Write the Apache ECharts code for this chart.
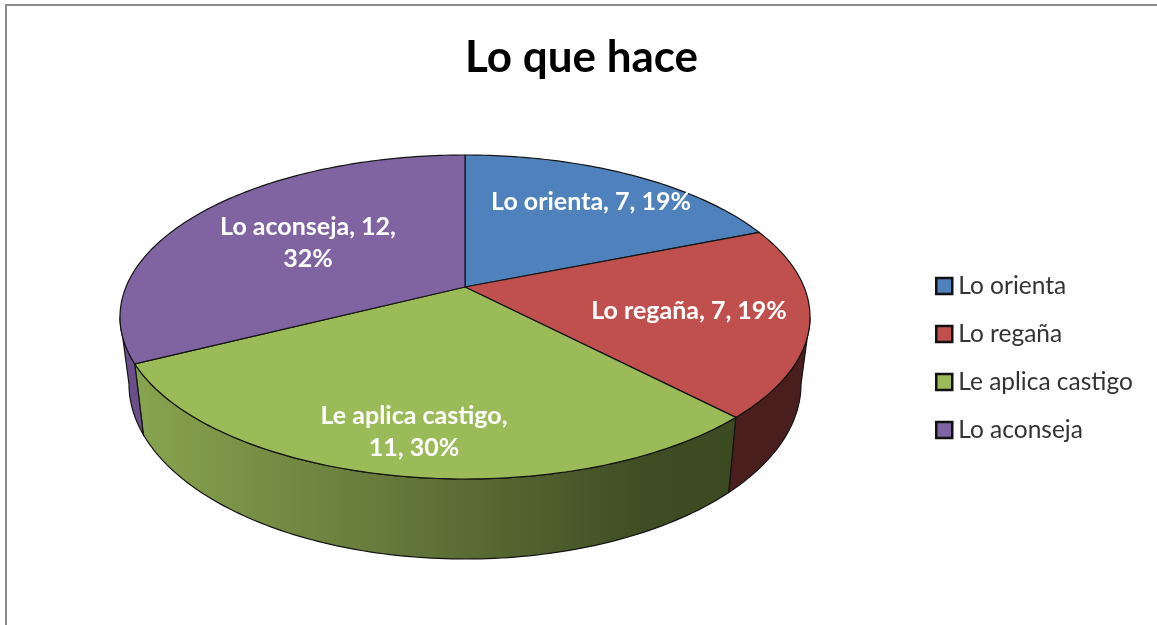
<!DOCTYPE html>
<html>
<head>
<meta charset="utf-8">
<title>Lo que hace</title>
<style>
  html, body { margin: 0; padding: 0; background: #fff; }
  #chart { width: 1157px; height: 625px; }
</style>
<script src="https://cdn.jsdelivr.net/npm/echarts@6/dist/echarts.min.js"></script>
</head>
<body>
<div id="chart"></div>
<script>
var categories = ['Lo orienta', 'Lo regaña', 'Le aplica castigo', 'Lo aconseja'];
var values = [7, 7, 11, 12];
var percents = [19, 19, 30, 32];

var topColors = ['#4f81bd', '#c0504d', '#9bbb59', '#8064a2'];
var FONT = 'Lato, "Open Sans", sans-serif';

// ellipses of the top face and of the base, the pie is seen in perspective
var topFace = { cx: 465, cy: 317, rx: 345, ry: 162 };
var baseFace = { cx: 465, cy: 384, rx: 336, ry: 175 };
// the centre of the circle lands above the centre of the ellipse
var tilt = -0.185;
// only this part of the rim faces the viewer (degrees, clockwise from the top)
var rimFrom = 100.7;
var rimTo = 259.3;

var labelPos = [[591, 202], [689, 311], [414, 432], [308, 243]];

var total = values.reduce(function (a, b) { return a + b; }, 0);

function startAngle(i) {
  return values.slice(0, i).reduce(function (a, b) { return a + b; }, 0) / total * 360;
}

function project(face, deg) {
  var t = deg * Math.PI / 180;
  var x = Math.sin(t);
  var y = -Math.cos(t);
  var d = 1 + tilt * y;
  return [
    face.cx + face.rx * x * Math.sqrt(1 - tilt * tilt) / d,
    face.cy + face.ry * (y + tilt) / d
  ];
}

function arc(face, from, to) {
  var pts = [];
  var n = Math.max(2, Math.ceil(to - from));
  for (var k = 0; k <= n; k++) {
    pts.push(project(face, from + (to - from) * k / n));
  }
  return pts;
}

function labelText(i) {
  var name = categories[i], v = values[i], p = percents[i] + '%';
  if (i === 2) return name + ',\n' + v + ', ' + p;
  if (i === 3) return name + ', ' + v + ',\n' + p;
  return name + ', ' + v + ', ' + p;
}

function wallFill(i) {
  if (i === 2) {
    return new echarts.graphic.LinearGradient(0, 0, 1, 0, [
      { offset: 0, color: '#88a44f' },
      { offset: 0.5, color: '#5f7137' },
      { offset: 0.85, color: '#3f4d24' },
      { offset: 1, color: '#3c4a22' }
    ]);
  }
  return i === 1 ? '#4b1e1e' : '#6a4f8a';
}

function makeRender(i) {
  return function () {
    var from = startAngle(i);
    var to = from + values[i] / total * 360;
    var children = [];
    var a = Math.max(from, rimFrom);
    var b = Math.min(to, rimTo);
    if (b > a) {
      children.push({
        type: 'polygon',
        shape: { points: arc(topFace, a, b).concat(arc(baseFace, a, b).reverse()) },
        style: { fill: wallFill(i), stroke: '#141414', lineWidth: 1.2 }
      });
    }
    children.push({
      type: 'polygon',
      shape: { points: [[topFace.cx, 287]].concat(arc(topFace, from, to)) },
      style: { fill: topColors[i], stroke: '#141414', lineWidth: 1.2, lineJoin: 'round' }
    });
    children.push({
      type: 'text',
      x: labelPos[i][0],
      y: labelPos[i][1],
      z2: 10,
      style: {
        text: labelText(i),
        fill: '#fff',
        font: 'bold 25px ' + FONT,
        lineHeight: 32,
        align: 'center',
        verticalAlign: 'middle'
      }
    });
    return { type: 'group', children: children };
  };
}

var myChart = echarts.init(document.getElementById('chart'));
myChart.setOption({
  animation: false,
  backgroundColor: '#fff',
  title: {
    text: 'Lo que hace',
    left: 465,
    top: 36,
    padding: 0,
    textStyle: { color: '#000', fontFamily: FONT, fontWeight: 'bold', fontSize: 44 }
  },
  legend: {
    orient: 'vertical',
    left: 935,
    top: 272,
    padding: 0,
    icon: 'rect',
    itemWidth: 16,
    itemHeight: 16,
    itemGap: 20,
    data: categories,
    selectedMode: false,
    itemStyle: { borderColor: '#111', borderWidth: 2.5 },
    textStyle: { color: '#333', fontFamily: FONT, fontSize: 24.5, padding: [0, 0, 0, 1], height: 28, lineHeight: 28 }
  },
  graphic: [
    { type: 'rect', shape: { x: 5, y: 4, width: 1152, height: 2 }, style: { fill: '#8c8c8c' }, silent: true },
    { type: 'rect', shape: { x: 5, y: 4, width: 2, height: 621 }, style: { fill: '#8c8c8c' }, silent: true }
  ],
  series: categories.map(function (name, i) {
    return {
      name: name,
      type: 'custom',
      coordinateSystem: 'none',
      silent: true,
      itemStyle: { color: topColors[i] },
      renderItem: makeRender(i),
      data: [values[i]]
    };
  })
});
</script>
</body>
</html>
